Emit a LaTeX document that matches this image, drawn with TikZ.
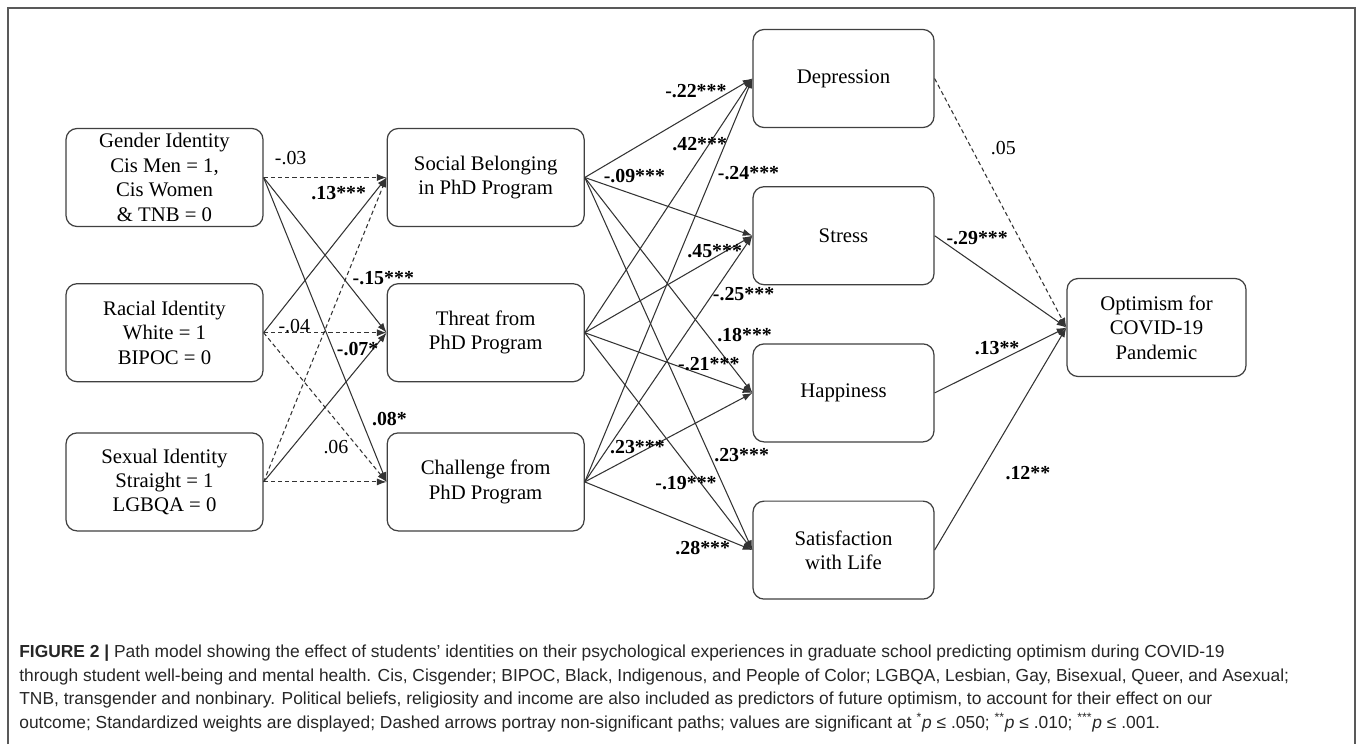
\documentclass[tikz,border=0pt]{standalone}
\usepackage{fontspec}
\setmainfont{Liberation Serif}
\newfontfamily\capfont{Liberation Sans}
\tikzstyle{var}=[rectangle,rounded corners=0.22cm,draw=black!75,line width=0.7pt,
fill=white,minimum width=3.94cm,minimum height=1.96cm,align=center,inner sep=1pt,
font=\fontsize{11.8}{13.9}\selectfont]
\tikzstyle{nvar}=[var,minimum width=3.62cm]
\tikzstyle{sig}=[draw=black!80,line width=0.6pt]
\tikzstyle{nsig}=[sig,dash pattern=on 2.4pt off 1.7pt]
\tikzstyle{coef}=[inner sep=1pt,font=\fontsize{11.3}{13}\selectfont\bfseries]
\tikzstyle{ncoef}=[inner sep=1pt,font=\fontsize{11.3}{13}\selectfont]
\usetikzlibrary{arrows.meta,positioning}
\begin{document}
\begin{tikzpicture}[x=0.02cm,y=-0.02cm,>={Latex[length=5.5pt,width=4pt]}]
            \useasboundingbox (0,0) rectangle (1358,744);
            \draw[black!65,line width=1.1pt] (8,744) -- (8,8) -- (1355,8) -- (1355,744);

            % IDENTITY PART

            \node[var] (gender) at (164.5,177.5) {Gender Identity\\Cis Men = 1,\\Cis Women\\\& TNB = 0};
            \node[var,below=1.12cm of gender] (racial) {Racial Identity\\White = 1\\BIPOC = 0};
            \node[var,below=1.0cm of racial] (sexual) {Sexual Identity\\Straight = 1\\LGBQA = 0};

            % PHD PROGRAM PART

            \node[var,right=2.46cm of gender] (belong) {Social Belonging\\in PhD Program};
            \node[var,right=2.46cm of racial] (threat) {Threat from\\PhD Program};
            \node[var,right=2.46cm of sexual] (challenge) {Challenge from\\PhD Program};

            % WELL-BEING PART

            \node[nvar] (depression) at (843.5,78.5) {Depression};
            \node[nvar,below=1.16cm of depression] (stress) {Stress};
            \node[nvar,below=1.16cm of stress] (happiness) {Happiness};
            \node[nvar,below=1.16cm of happiness] (satisfaction) {Satisfaction\\with Life};

            \node[nvar,minimum width=3.58cm] (optimism) at (1156.5,327.5) {Optimism for\\COVID-19\\Pandemic};

            \path[->] (gender.east) edge[nsig] node[ncoef,pos=.22,yshift=11.3pt] {-.03} (belong.west);
            \path[->] (gender.east) edge[sig] node[coef,pos=.645,xshift=23pt] {-.15***} (threat.west);
            \path[->] (gender.east) edge[sig] node[coef,pos=.795,xshift=16pt] {.08*} (challenge.west);
            \path[->] (racial.east) edge[sig] node[coef,pos=.897,xshift=-20pt] {.13***} (belong.west);
            \path[->] (racial.east) edge[nsig] node[ncoef,pos=.25,yshift=4pt] {-.04} (threat.west);
            \path[->] (racial.east) edge[nsig] node[ncoef,pos=.764,xshift=-12.3pt] {.06} (challenge.west);
            \path[->] (sexual.east) edge[nsig] (belong.west);
            \path[->] (sexual.east) edge[sig] node[coef,pos=.892,xshift=-8.9pt] {-.07*} (threat.west);
            \path[->] (sexual.east) edge[nsig] (challenge.west);

            % Program to well-being

            \path[->] (belong.east) edge[sig] node[coef,pos=.663,yshift=12.1pt] {-.22***} (depression.west);
            \path[->] (belong.east) edge[sig] node[coef,pos=.296,yshift=10.7pt] {-.09***} (stress.west);
            \path[->] (belong.east) edge[sig] node[coef,pos=.732,xshift=21.1pt] {.18***} (happiness.west);
            \path[->] (belong.east) edge[sig] node[coef,pos=.745,xshift=18.2pt] {.23***} (satisfaction.west);
            \path[->] (threat.east) edge[sig] node[coef,pos=.744,xshift=-5.6pt] {.42***} (depression.west);
            \path[->] (threat.east) edge[sig] node[coef,pos=.775,yshift=3.4pt] {.45***} (stress.west);
            \path[->] (threat.east) edge[sig] node[coef,pos=.74,yshift=7.3pt] {-.21***} (happiness.west);
            \path[->] (threat.east) edge[sig] node[coef,pos=.692,xshift=-8.4pt] {-.19***} (satisfaction.west);
            \path[->] (challenge.east) edge[sig] node[coef,pos=.766,xshift=20.1pt] {-.24***} (depression.west);
            \path[->] (challenge.east) edge[sig] node[coef,pos=.764,xshift=17.5pt] {-.25***} (stress.west);
            \path[->] (challenge.east) edge[sig] node[coef,pos=.314,yshift=3.9pt] {.23***} (happiness.west);
            \path[->] (challenge.east) edge[sig] node[coef,pos=.704,yshift=-10.5pt] {.28***} (satisfaction.west);

            % Well-being to optimism

            \path[->] (depression.east) edge[nsig] node[ncoef,pos=.281,xshift=18pt] {.05} (optimism.west);
            \path[->] (stress.east) edge[sig] node[coef,pos=.323,yshift=15.4pt] {-.29***} (optimism.west);
            \path[->] (happiness.east) edge[sig] node[coef,pos=.474,yshift=7.6pt] {.13**} (optimism.west);
            \path[->] (satisfaction.east) edge[sig] node[coef,pos=.348,xshift=27pt] {.12**} (optimism.west);

            % Caption

            \node[anchor=north west,inner sep=0pt,align=left,text=black!85,
              font=\capfont\fontsize{9.9}{13.3}\selectfont] (caption) at (19,645)
              {{\bfseries FIGURE 2 |} Path model showing the effect of students’ identities on their psychological experiences in graduate school predicting optimism during COVID-19\\
              through student well-being and mental health. Cis, Cisgender; BIPOC, Black, Indigenous, and People of Color; LGBQA, Lesbian, Gay, Bisexual, Queer, and Asexual;\\
              TNB, transgender and nonbinary. Political beliefs, religiosity and income are also included as predictors of future optimism, to account for their effect on our\\
              outcome; Standardized weights are displayed; Dashed arrows portray non-significant paths; values are significant at \textsuperscript{*}\textit{p} ≤ .050; \textsuperscript{**}\textit{p} ≤ .010; \textsuperscript{***}\textit{p} ≤ .001.};

        \end{tikzpicture}
\end{document}
